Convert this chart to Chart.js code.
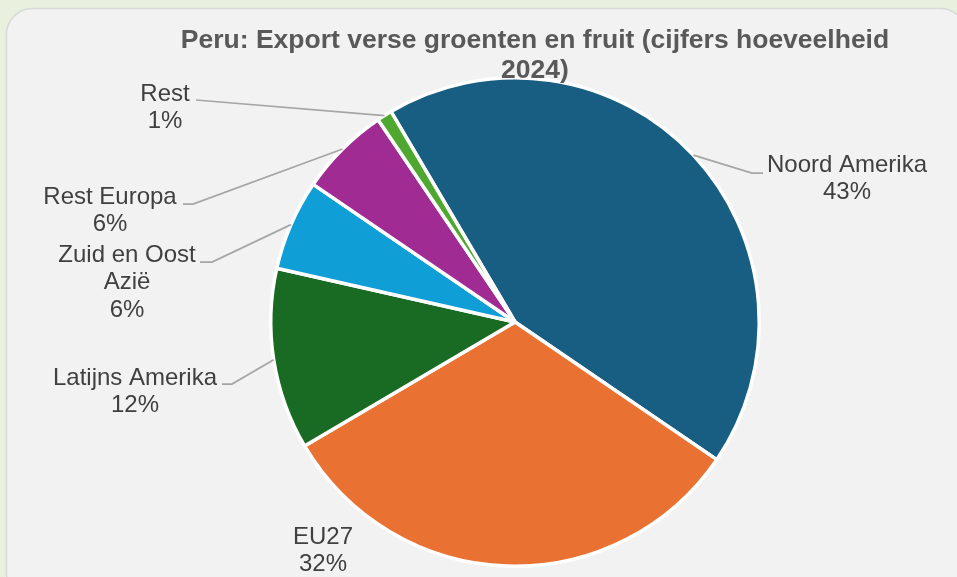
<!DOCTYPE html>
<html>
<head>
<meta charset="utf-8">
<script src="https://cdn.jsdelivr.net/npm/chart.js@4/dist/chart.umd.min.js"></script>
<style>
  html, body { margin: 0; padding: 0; background: #e9f0dd; }
  #wrap { width: 957px; height: 577px; }
</style>
</head>
<body>
<div id="wrap"><canvas id="myChart" width="957" height="577"></canvas></div>
<script>
// data
const regions = ['Noord Amerika', 'EU27', 'Latijns Amerika', 'Zuid en Oost Azië', 'Rest Europa', 'Rest']
const labelLines = [['Noord Amerika'], ['EU27'], ['Latijns Amerika'], ['Zuid en Oost', 'Azië'], ['Rest Europa'], ['Rest']]
const shares = [43, 32, 12, 6, 6, 1]
const sliceColors = ['#175e82', '#e97132', '#196b24', '#0f9ed5', '#a02b93', '#4ea72e']
const titleLines = ['Peru: Export verse groenten en fruit (cijfers hoeveelheid', '2024)']

// label layout: text centre x, first line y, elbow points of the leader line (null = no line)
const labelPos = [
  {x: 847, y: 165, line: [[763, 173], [752, 173]]},
  {x: 323, y: 537, line: null},
  {x: 135, y: 378, line: [[222, 384], [232, 384]]},
  {x: 127, y: 255, line: [[200, 262], [212, 262]]},
  {x: 110, y: 197, line: [[183, 204], [193, 204]]},
  {x: 165, y: 94,  line: [[196, 100]]}
]

// background panel
const panelPlugin = {
  id: 'panel',
  beforeDraw(chart) {
    let ctx = chart.ctx
    ctx.save()
    ctx.fillStyle = '#e9f0dd'
    ctx.fillRect(0, 0, chart.width, chart.height)
    ctx.beginPath()
    ctx.roundRect(6.5, 8.5, 960, 590, 26)
    ctx.fillStyle = '#f2f2f2'
    ctx.fill()
    ctx.strokeStyle = '#d9d9d9'
    ctx.lineWidth = 1.5
    ctx.stroke()
    ctx.restore()
  }
}

// title, leader lines and data labels
const labelPlugin = {
  id: 'labels',
  afterDraw(chart) {
    let ctx = chart.ctx
    ctx.save()
    ctx.textAlign = 'center'
    ctx.textBaseline = 'middle'

    ctx.fillStyle = '#595959'
    ctx.font = 'bold 26.5px "Liberation Sans", Arial, sans-serif'
    ctx.fillText(titleLines[0], 535, 41)
    ctx.fillText(titleLines[1], 535, 71)

    let arcs = chart.getDatasetMeta(0).data
    ctx.font = '24px "Liberation Sans", Arial, sans-serif'
    arcs.forEach((arc, i) => {
      let pos = labelPos[i]
      if(pos.line) {
        let mid = (arc.startAngle + arc.endAngle) / 2
        let sx = arc.x + Math.cos(mid) * arc.outerRadius
        let sy = arc.y + Math.sin(mid) * arc.outerRadius
        ctx.beginPath()
        ctx.moveTo(sx, sy)
        for(let k = pos.line.length - 1; k >= 0; k--) ctx.lineTo(pos.line[k][0], pos.line[k][1])
        ctx.strokeStyle = '#a6a6a6'
        ctx.lineWidth = 1.75
        ctx.stroke()
      }
      ctx.fillStyle = '#404040'
      let lines = labelLines[i].concat([shares[i] + '%'])
      lines.forEach((t, k) => ctx.fillText(t, pos.x, pos.y + k * 27.5))
    })
    ctx.restore()
  }
}

let ctx = document.getElementById('myChart').getContext('2d')
let graph = new Chart(ctx, {
  type: 'pie',
  data: {
    labels: regions,
    datasets: [{
      data: shares,
      backgroundColor: sliceColors,
      borderColor: '#ffffff',
      borderWidth: 3.5,
      hoverOffset: 0
    }]
  },
  options: {
    responsive: false,
    animation: false,
    rotation: -30.5,
    layout: {padding: {left: 269, right: 196, top: 76, bottom: 9}},
    plugins: {
      legend: {display: false},
      tooltip: {enabled: false},
      title: {display: false}
    }
  },
  plugins: [panelPlugin, labelPlugin]
})
</script>
</body>
</html>
